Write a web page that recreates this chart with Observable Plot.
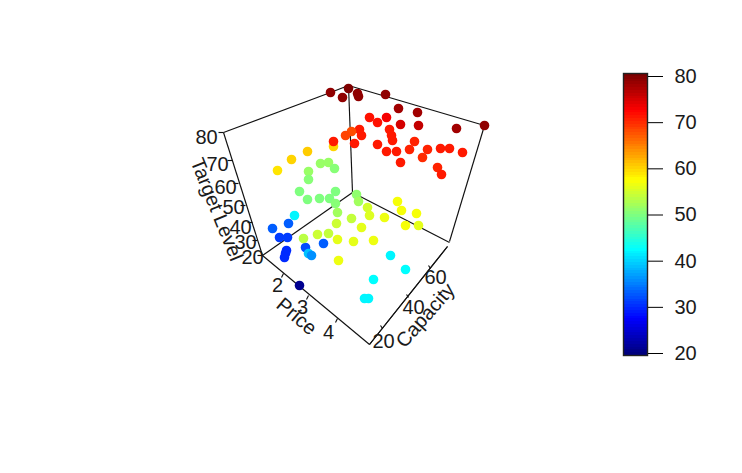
<!DOCTYPE html>
<html><head><meta charset="utf-8">
<script src="https://cdn.jsdelivr.net/npm/d3@7"></script>
<script src="https://cdn.jsdelivr.net/npm/@observablehq/plot@0.6"></script>
<style>
html,body{margin:0;padding:0;background:#fff}
#c{position:relative;width:742px;height:473px;overflow:hidden}
#c svg{position:absolute;background:transparent;font-family:"Liberation Sans",Arial,sans-serif}
</style></head><body><div id="c"></div>
<script>
// projected positions of the 3D scatter and Target Level value
const px=[330,342,348,357,358,385,398,417,456,484,
 418,400,369,377,386,389,391,392,377,386,396,400,409,414,427,422,440,449,462,437,441,359,361,354,351,345,333,333,
 277,291,307,320,328,334,308,308,299,307,319,329,335,335,337,294,
 272,288,279,287,286,285,284,299,305,308,311,323,303,317,328,336,337,338,
 356,358,367,369,351,361,353,373,384,397,401,416,405,418,390,405,373,364,368];
const py=[92,97,88,93,96,94,108,112,128,125,
 125,124,117,122,117,129,135,140,144,151,151,162,149,141,149,157,148,148,152,167,174,129,135,143,131,135,146,141,
 170,159,151,163,162,168,171,179,191,199,198,198,191,203,212,215,
 228,223,237,237,250,253,257,285,247,253,255,243,238,234,233,223,239,260,
 194,201,207,215,218,227,241,240,217,201,210,213,225,225,255,269,279,298,298];
const level=[79,79,80,79,79,79,78,78,78,79,
 76,75,71.5,71.5,73,71,71,71,71,71,71,71,70.5,70.5,70.5,70,71,71,71,70.5,71,71,71,71,68,68.5,60,71,
 59,60,60.5,51.5,51.5,50.5,51.5,50.5,50,50,50,50,50,50.5,52,42,
 33,33,31,31,30,30,30,21,32,39,36,33,53.5,54.5,54,54.5,56,56.5,
 51,52,55,55.5,54,56,56,56.5,56.5,57,57,57,57,56,42,42.5,42.5,42,42];
const pts=px.map((x,i)=>({x,y:py[i],level:level[i]}));

// drawn box edges
const boxX1=[223,330,348,223,262,352,352,262,369,484,369];
const boxY1=[132,92,85,132,255,192,192,255,344,125,344];
const boxX2=[330,348,484,262,352,449,348,369,447,449,447];
const boxY2=[92,85,125,255,192,242,85,344,246,241,246];
const edges=boxX1.map((x,i)=>({x1:x,y1:boxY1[i],x2:boxX2[i],y2:boxY2[i]}));

// axis ticks
const tickX1=[223,232,238,245,252,257,262, 283,308,337, 382,408,430];
const tickY1=[132,160,183,205,222,240,255, 273,295,318, 328,297,268];
const tickX2=[218,227,233,240,247,252,257, 281,306,335, 380,406,428];
const tickY2=[132,160,183,205,222,240,255, 277,299,322, 325,294,265];
const ticks3d=tickX1.map((x,i)=>({x1:x,y1:tickY1[i],x2:tickX2[i],y2:tickY2[i]}));

const tickText=["80","70","60","50","40","30","20","2","3","4","20","40","60"];
const tickTextX=[206,217,225,233,240,245,252,277,302,328,383,413,435];
const tickTextY=[137,164,187,207,227,242,257,285,307,332,341,307,277];
const tickLabels=tickText.map((t,i)=>({t,x:tickTextX[i],y:tickTextY[i]}));

const axisTitles=["Price","Capacity","Target Level"];
const titleX=[296,425,216];
const titleY=[316,315,209];
const titleAngle=[40,-49,68];

const stops=[20,27.5,35,42.5,50,57.5,65,72.5,80];
const jet=["#00007F","#0000FF","#007FFF","#00FFFF","#7FFF7F","#FFFF00","#FF7F00","#FF0000","#7F0000"];
const barTicks=[20,30,40,50,60,70,80];
const barLow=19.57, barHigh=80.65;
const color=d3.scaleLinear().domain(stops).range(jet).interpolate(d3.interpolateRgb);
const barLevels=d3.range(100).map(i=>({a:barLow+(barHigh-barLow)*i/100,b:barLow+(barHigh-barLow)*(i+1)/100}));

const main=Plot.plot({
  width:742,height:473,margin:0,
  x:{domain:[0,742],range:[0,742],axis:null},
  y:{domain:[0,473],range:[0,473],axis:null},
  color:{type:"linear",domain:stops,range:jet,interpolate:"rgb"},
  style:{fontFamily:"'Liberation Sans',Arial,sans-serif"},
  marks:[
    Plot.link(edges,{x1:"x1",y1:"y1",x2:"x2",y2:"y2",stroke:"#111",strokeWidth:1.15}),
    Plot.link(ticks3d,{x1:"x1",y1:"y1",x2:"x2",y2:"y2",stroke:"#111",strokeWidth:1.15}),
    Plot.dot(pts,{x:"x",y:"y",r:4.8,fill:"level",stroke:null}),
    Plot.text(tickLabels,{x:"x",y:"y",text:"t",fontSize:20,fill:"#1a1a1a"}),
    ...axisTitles.map((t,i)=>Plot.text([t],{x:()=>titleX[i],y:()=>titleY[i],text:d=>d,rotate:titleAngle[i],fontSize:20,fill:"#1a1a1a"}))
  ]
});
main.style.left="0";main.style.top="0";

const bar=Plot.plot({
  width:120,height:310,marginTop:13,marginBottom:15,marginLeft:23,marginRight:73,
  x:{domain:[0,1],axis:null},
  y:{domain:[barLow,barHigh],axis:null},
  style:{fontFamily:"'Liberation Sans',Arial,sans-serif"},
  marks:[
    Plot.rect(barLevels,{x1:0,x2:1,y1:"a",y2:"b",fill:d=>color((d.a+d.b)/2),shapeRendering:"crispEdges"}),
    Plot.frame({stroke:"#222",strokeWidth:1.4}),
    Plot.axisY(barTicks,{anchor:"right",tickSize:15,tickPadding:12,fontSize:20,stroke:"black",fill:"#1a1a1a",tickFormat:d=>String(d),label:null})
  ]
});
bar.style.left="600px";bar.style.top="60px";
document.getElementById("c").append(main,bar);
</script></body></html>
